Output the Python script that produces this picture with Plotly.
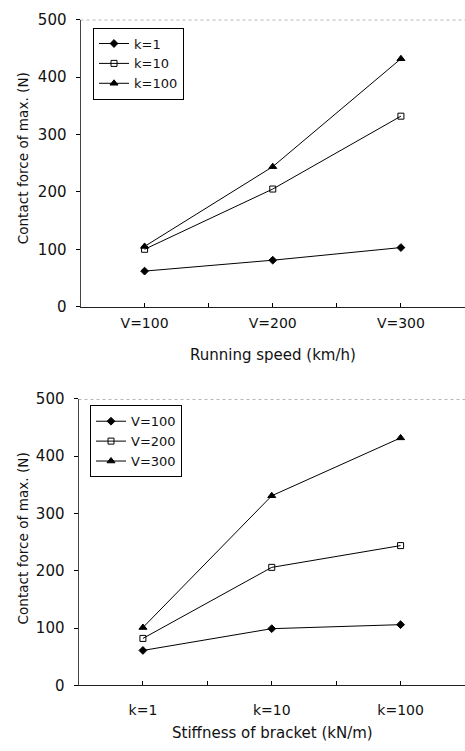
import plotly.graph_objects as go

# ---- data ----
speed_labels = ["V=100", "V=200", "V=300"]
stiff_labels = ["k=1", "k=10", "k=100"]

# top chart: force vs running speed, one series per stiffness
top_k1 = [62, 81, 103]
top_k10 = [100, 205, 332]
top_k100 = [105, 244, 432]

# bottom chart: force vs stiffness, one series per speed
bot_v100 = [61, 99, 106]
bot_v200 = [82, 206, 244]
bot_v300 = [101, 331, 432]

y_ticks = [0, 100, 200, 300, 400, 500]

FONT = "DejaVu Sans"
W, H = 465, 751

fig = go.Figure()

symbols = ["diamond", "square-open", "triangle-up"]
sizes = [6, 6, 7]

top_series = [("k=1", top_k1), ("k=10", top_k10), ("k=100", top_k100)]
for (name, vals), sym, sz in zip(top_series, symbols, sizes):
    fig.add_trace(go.Scatter(
        x=list(range(len(speed_labels))), y=vals, name=name,
        mode="lines+markers", xaxis="x", yaxis="y", legend="legend",
        line=dict(color="black", width=1),
        marker=dict(symbol=sym, size=sz, color="black",
                    line=dict(color="black", width=1)),
    ))

bot_series = [("V=100", bot_v100), ("V=200", bot_v200), ("V=300", bot_v300)]
for (name, vals), sym, sz in zip(bot_series, symbols, sizes):
    fig.add_trace(go.Scatter(
        x=list(range(len(stiff_labels))), y=vals, name=name,
        mode="lines+markers", xaxis="x2", yaxis="y2", legend="legend2",
        line=dict(color="black", width=1),
        marker=dict(symbol=sym, size=sz, color="black",
                    line=dict(color="black", width=1)),
    ))

def xaxis(labels, domain, anchor, standoff):
    return dict(
        domain=domain, anchor=anchor, range=[-0.5, 2.5],
        tickmode="array", tickvals=list(range(len(labels))), ticktext=labels,
        ticks="inside", ticklen=4, tickcolor="black",
        minor=dict(tickmode="linear", tick0=0.5, dtick=1, ticks="inside",
                   ticklen=4, tickcolor="black"),
        showline=True, linecolor="#222", linewidth=1,
        showgrid=False, zeroline=False, fixedrange=True,
        tickfont=dict(family=FONT, size=14, color="#111"),
        ticklabelstandoff=standoff,
    )

def yaxis(domain, anchor):
    return dict(
        domain=domain, anchor=anchor, range=[0, 500],
        tickmode="array", tickvals=y_ticks,
        ticks="outside", ticklen=4, tickcolor="black",
        showline=True, linecolor="#444", linewidth=1,
        showgrid=False, zeroline=False,
        tickfont=dict(family=FONT, size=15, color="#111"),
        ticklabelstandoff=6,
    )

top_dom = [1 - 305 / H, 1 - 11 / H]
bot_dom = [1 - 693 / H, 1 - 399.5 / H]

legend_style = dict(
    bgcolor="white", bordercolor="black", borderwidth=1,
    font=dict(family=FONT, size=13, color="#111"),
    xanchor="left", yanchor="top", itemwidth=30, tracegroupgap=0,
)

title_font = dict(family=FONT, size=15, color="#111")
ytitle_font = dict(family=FONT, size=13.6, color="#111")

fig.update_layout(
    width=W, height=H,
    margin=dict(l=0, r=0, t=0, b=0),
    paper_bgcolor="white", plot_bgcolor="white",
    showlegend=True,
    xaxis=xaxis(speed_labels, [80.5 / W, 1], "y", 4),
    yaxis=yaxis(top_dom, "x"),
    xaxis2=xaxis(stiff_labels, [78.5 / W, 1], "y2", 12),
    yaxis2=yaxis(bot_dom, "x2"),
    legend=dict(x=93 / W, y=1 - 19 / H, **legend_style),
    legend2=dict(x=90 / W, y=1 - 406 / H, **legend_style),
    annotations=[
        dict(text="Running speed (km/h)", xref="paper", yref="paper",
             x=273 / W, y=1 - 355 / H, xanchor="center", yanchor="middle",
             showarrow=False, font=title_font),
        dict(text="Stiffness of bracket (kN/m)", xref="paper", yref="paper",
             x=272 / W, y=1 - 742 / H, xanchor="center", yanchor="middle",
             showarrow=False, font=title_font),
        dict(text="Contact force of max. (N)", xref="paper", yref="paper",
             x=22.5 / W, y=1 - 153.5 / H, xanchor="center", yanchor="middle",
             showarrow=False, textangle=-90, font=ytitle_font),
        dict(text="Contact force of max. (N)", xref="paper", yref="paper",
             x=22.5 / W, y=1 - 543 / H, xanchor="center", yanchor="middle",
             showarrow=False, textangle=-90, font=ytitle_font),
    ],
    shapes=[
        dict(type="line", xref="x domain", yref="y", x0=0, x1=1, y0=500, y1=500,
             line=dict(color="#555", width=1, dash="dot")),
        dict(type="line", xref="x2 domain", yref="y2", x0=0, x1=1, y0=500, y1=500,
             line=dict(color="#555", width=1, dash="dot")),
    ],
)

fig.write_html("out.html")
